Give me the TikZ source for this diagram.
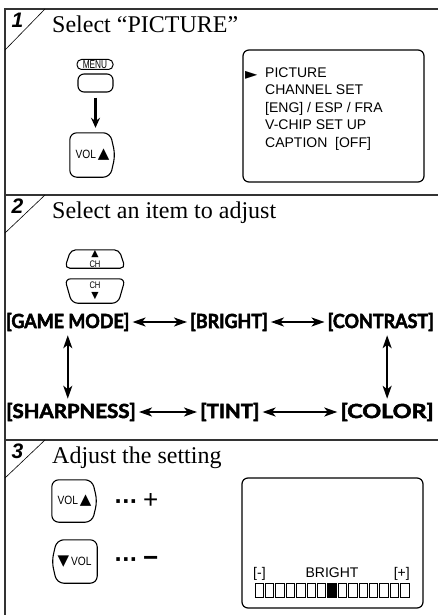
\documentclass[tikz,border=0pt]{standalone}
\usepackage{fontspec}
\usepackage{graphicx}
\setmainfont{Liberation Serif}
\setsansfont{Liberation Sans}
\newfontfamily\itemfont{Lato}[FakeStretch=0.92, BoldFeatures={FakeBold=2.5}]
\newfontfamily\symfont{DejaVu Sans}
\usetikzlibrary{
  arrows.meta,
  positioning,  % right=of ...
  calc,         % $...$
}
\def\mybarstep{10.4}
\newcommand{\wide}[2]{\scalebox{#1}[1]{#2}}
\tikzset{
  semithick,
  frame/.style={draw=black!80, line width=1.9pt},
  corner/.style={draw=black, line width=0.6pt},
  stepnum/.style={
    font=\fontsize{21}{21}\selectfont\sffamily\bfseries\itshape,
    inner sep=0pt
  },
  steptitle/.style={
    font=\fontsize{24}{24}\selectfont,
    inner sep=0pt,
    anchor=base west
  },
  screen/.style={draw, line width=1.2pt, rounded corners=6pt},
  osd/.style={
    font=\fontsize{14}{17.5}\selectfont\sffamily,
    inner sep=0pt,
    anchor=base west
  },
  btnbox/.style={inner sep=0pt, font=\sffamily\fontsize{12}{10}\selectfont},
  btnline/.style={draw, line width=1.1pt, rounded corners=7pt},
  setting/.style={
    font=\fontsize{19.5}{19.5}\selectfont\itemfont\bfseries,
    inner sep=0pt
  },
  swap/.style={
    {Stealth[length=13pt,width=9pt,inset=3.5pt]}-{Stealth[length=13pt,width=9pt,inset=3.5pt]},
    line width=1.7pt,
    shorten >=3pt,
    shorten <=3pt
  },
  push/.style={-{Stealth[length=10pt,width=9pt]}, line width=2.4pt},
  level/.style={draw, line width=0.7pt}
}

\begin{document}
\begin{tikzpicture}[x=1pt,y=-1pt]
\useasboundingbox (0,0) rectangle (438,615);

% frame and step corners
\draw[frame] (5,615) -- (5,9) -- (438,9);
\draw[frame] (5,195) -- (438,195);
\draw[frame] (5,440) -- (438,440);
\draw[corner] (5,50) -- (45,9);
\draw[corner] (5,233) -- (45,195);
\draw[corner] (5,478) -- (45,440);

\node[stepnum] (n1) at (17.5,20) {1};
\node[stepnum] (n2) at (17.5,206) {2};
\node[stepnum] (n3) at (17.5,451) {3};

\node[steptitle] (t1) at (52,33) {Select “PICTURE”};
\node[steptitle] (t2) at (52,218) {Select an item to adjust};
\node[steptitle] (t3) at (52,463) {Adjust the setting};

% step 1
\node[draw, rounded corners=4.5pt, line width=1pt, inner sep=0pt,
      minimum width=36pt, minimum height=10pt] (menulbl) at (95,64.5)
  {\wide{0.72}{\sffamily\fontsize{11.5}{10}\selectfont MENU}};
\node[draw, rounded corners=6pt, line width=1.1pt,
      minimum width=35pt, minimum height=18pt] (menubtn) at (95.5,83) {};
\node[btnbox, minimum width=45pt, minimum height=44pt] (volbtn) at (92.5,155)
  {\wide{0.85}{VOL}\,{\fontsize{15}{12}\selectfont\symfont ▲}};
\draw[btnline] (volbtn.north west) -- ($(volbtn.north east)+(-5,0)$)
  -- (volbtn.east) -- ($(volbtn.south east)+(-5,0)$)
  -- (volbtn.south west) -- cycle;
\draw[push, shorten <=5pt, shorten >=5pt]
  (menubtn.south) -- (menubtn.south |- volbtn.north);

\node[screen, minimum width=181pt, minimum height=132pt] (menuscr) at (333.5,116) {};
\node[osd, font=\fontsize{16}{16}\selectfont\symfont] (ptr) at (245,79.5) {►};
\node[osd, align=left, anchor=north west] (menutxt) at (265,67.5)
  {PICTURE\\CHANNEL SET\\{[ENG]} / ESP / FRA\\V-CHIP SET UP\\CAPTION\ \ [OFF]};

% step 2
\node[btnbox, font=\sffamily\fontsize{9.5}{10.5}\selectfont, align=center,
      minimum width=60pt, minimum height=18pt] (chup) at (95,259)
  {{\symfont ▲}\\\wide{0.8}{CH}};
\draw[btnline, rounded corners=5pt] (chup.south west)
  -- ($(chup.north west)+(6,0)$) -- ($(chup.north east)+(-6,0)$)
  -- (chup.south east) -- cycle;
\node[btnbox, font=\sffamily\fontsize{9.5}{10.5}\selectfont, align=center,
      minimum width=60pt, minimum height=24pt] (chdn) at (95,291)
  {\wide{0.8}{CH}\\{\symfont ▼}};
\draw[btnline, rounded corners=6pt] (chdn.north west) -- (chdn.north east)
  -- ($(chdn.south east)+(-7,0)$) -- ($(chdn.south west)+(7,0)$) -- cycle;

\node[setting, anchor=west] (game)     at (6,322)   {[GAME MODE]};
\node[setting, anchor=west] (bright)   at (190,322) {[BRIGHT]};
\node[setting, anchor=east] (contrast) at (434,322) {[CONTRAST]};
\node[setting, anchor=west] (sharp)    at (6,412)   {\wide{1.14}{[SHARPNESS]}};
\node[setting, anchor=west] (tint)     at (200,412) {\wide{1.14}{[TINT]}};
\node[setting, anchor=east] (color)    at (434,412) {\wide{1.3}{[COLOR]}};

\draw[swap] (game) -- (bright);
\draw[swap] (bright) -- (contrast);
\draw[swap] (sharp) -- (tint);
\draw[swap] (tint) -- (color);
\draw[swap, shorten <=4pt, shorten >=4pt] (game.south) -- (game.south |- sharp.north);
\draw[swap, shorten <=4pt, shorten >=4pt] (contrast.south -| color) -- (color.north);

% step 3
\node[btnbox, minimum width=45pt, minimum height=42pt] (volup) at (74.5,501)
  {\wide{0.85}{VOL}\,{\fontsize{15}{12}\selectfont\symfont ▲}};
\draw[btnline] (volup.north west) -- ($(volup.north east)+(-5,0)$)
  -- (volup.east) -- ($(volup.south east)+(-5,0)$)
  -- (volup.south west) -- cycle;
\node[btnbox, minimum width=45pt, minimum height=43pt] (voldn) at (74.5,561.5)
  {{\fontsize{15}{12}\selectfont\symfont ▼}\,\wide{0.85}{VOL}};
\draw[btnline] ($(voldn.north west)+(5,0)$) -- (voldn.north east)
  -- (voldn.south east) -- ($(voldn.south west)+(5,0)$)
  -- (voldn.west) -- cycle;
\node[inner sep=0pt, anchor=west, right=17pt of volup, font=\sffamily] (plus)
  {{\fontsize{20}{20}\selectfont\symfont\bfseries ···}\hspace{6pt}{\fontsize{26}{26}\selectfont +}};
\node[inner sep=0pt, anchor=west, right=17pt of voldn, font=\sffamily] (minus)
  {{\fontsize{20}{20}\selectfont\symfont\bfseries ···}\hspace{6pt}{\fontsize{26}{26}\selectfont\bfseries −}};

\node[screen, minimum width=181pt, minimum height=130pt] (brightscr) at (332.5,543) {};
\node[osd] (lo) at (253,577) {[-]};
\node[osd, anchor=base] (brightlbl) at (332,577) {BRIGHT};
\node[osd, anchor=base east] (hi) at (410,577) {[+]};
\foreach \i in {0,...,14} {
  \ifnum\i=7
    \path[level, fill=black] (255+\i*\mybarstep,583) rectangle ++(8.4,14);
  \else
    \path[level] (255+\i*\mybarstep,583) rectangle ++(8.4,14);
  \fi
}
\end{tikzpicture}
\end{document}
